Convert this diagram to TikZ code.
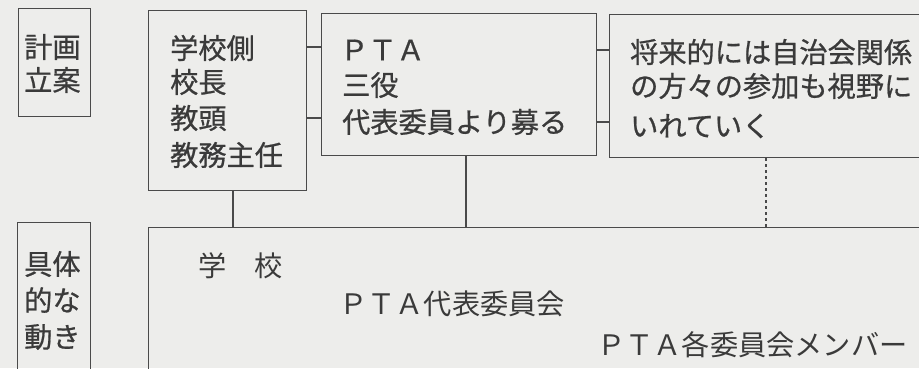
\documentclass[tikz,border=0pt]{standalone}
\usepackage{fontspec}
\newfontfamily\jp[FakeBold=0.7]{Noto Sans CJK JP}
\newfontfamily\jpthin{Noto Sans CJK JP}
\begin{document}
\begin{tikzpicture}[x=1pt,y=-1pt,
  frame/.style={draw=linegray, line width=1.3pt, inner sep=0pt, anchor=north west},
  conn/.style={draw=linegray, line width=1.3pt},
  dconn/.style={draw=linegray, line width=1.1pt, dash pattern=on 3pt off 3pt},
  lbl/.style={inner sep=0pt, anchor=west, text=textgray, font=\jp\fontsize{28.2}{33}\selectfont},
  lblm/.style={inner sep=0pt, anchor=west, text=textgray, font=\jpthin\fontsize{28.2}{33}\selectfont}]
\definecolor{linegray}{HTML}{4A4A4A}
\definecolor{textgray}{HTML}{3A3A3A}
\definecolor{paper}{HTML}{EDEDEB}
\useasboundingbox (0,0) rectangle (919,368);
\fill[paper] (0,0) rectangle (919,368);
\clip (0,0) rectangle (919,368);
% boxes
\node[frame, minimum width=72pt, minimum height=108pt] (plan) at (18,8) {};
\node[frame, minimum width=158pt, minimum height=180pt] (school) at (148,10) {};
\node[frame, minimum width=275pt, minimum height=142pt] (pta) at (321,13) {};
\node[frame, minimum width=321pt, minimum height=143pt] (future) at (609,14) {};
\node[frame, minimum width=73pt, minimum height=150pt] (act) at (17,222) {};
\node[frame, minimum width=782pt, minimum height=153pt] (main) at (148,227) {};
% texts
\node[lbl] (p1) at (24,47) {計画};
\node[lbl] (p2) at (24,80) {立案};
\node[lbl] (s1) at (170,48) {学校側};
\node[lbl] (s2) at (170,82) {校長};
\node[lbl] (s3) at (170,118) {教頭};
\node[lbl] (s4) at (170,155) {教務主任};
\node[lbl] (t1) at (340,50) {ＰＴＡ};
\node[lbl] (t2) at (342,85) {三役};
\node[lbl] (t3) at (342,122) {代表委員より募る};
\node[lbl] (f1) at (630,52) {将来的には自治会関係};
\node[lbl] (f2) at (630,86) {の方々の参加も視野に};
\node[lbl] (f3) at (630,126) {いれていく};
\node[lbl] (a1) at (24,264) {具体};
\node[lbl] (a2) at (24,300) {的な};
\node[lbl] (a3) at (24,337) {動き};
\node[lblm] (m1) at (198,266) {学　校};
\node[lblm] (m2) at (339,304) {ＰＴＡ代表委員会};
\node[lblm] (m3) at (597,345) {ＰＴＡ各委員会メンバー};
% connector heights and columns
\coordinate (h1) at (0,47);
\coordinate (h2) at (0,118);
\coordinate (h3) at (0,50);
\coordinate (h4) at (0,122);
\coordinate (c1) at (233,0);
\coordinate (c2) at (466,0);
\coordinate (c3) at (766,0);
\draw[conn] (school.east |- h1) -- (pta.west |- h1);
\draw[conn] (school.east |- h2) -- (pta.west |- h2);
\draw[conn] (pta.east |- h3) -- (future.west |- h3);
\draw[conn] (pta.east |- h4) -- (future.west |- h4);
\draw[conn] (school.south -| c1) -- (main.north -| c1);
\draw[conn] (pta.south -| c2) -- (main.north -| c2);
\draw[dconn] (future.south -| c3) -- (main.north -| c3);
\end{tikzpicture}
\end{document}
